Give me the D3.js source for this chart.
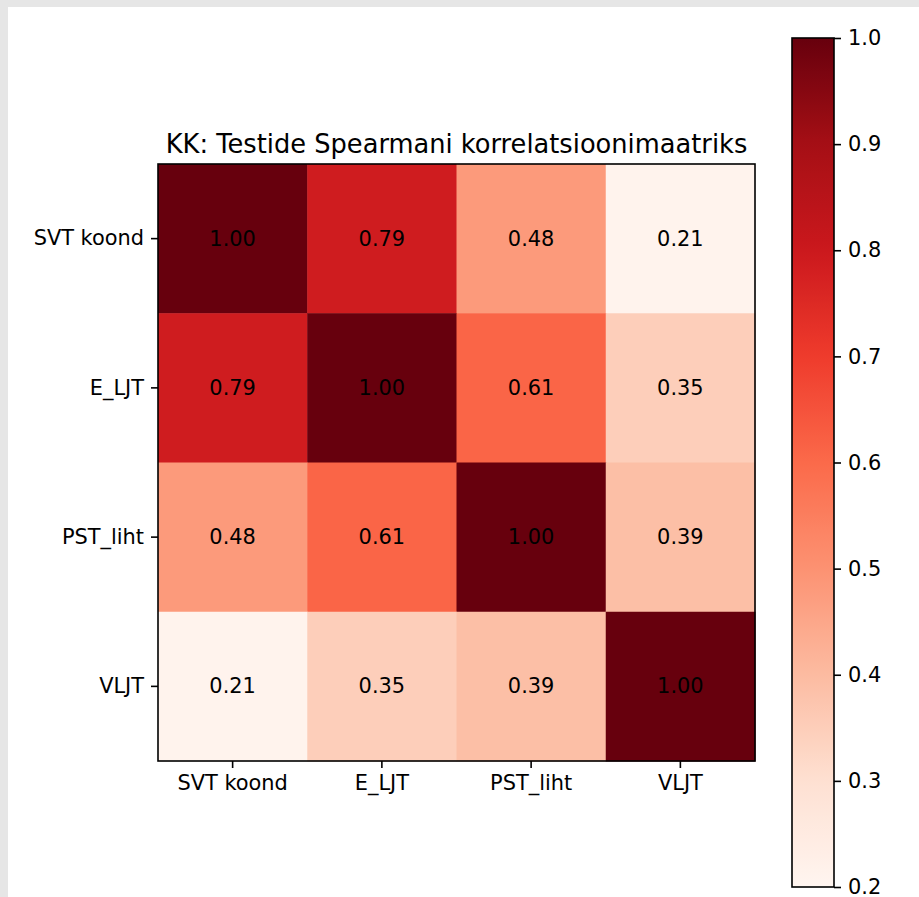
<!DOCTYPE html>
<html>
<head>
<meta charset="utf-8">
<script src="https://cdn.jsdelivr.net/npm/d3@7"></script>
<style>
  html, body { margin: 0; padding: 0; background: #e6e6e6; }
  svg { display: block; }
  text { font-family: "DejaVu Sans", sans-serif; fill: #000; }
</style>
</head>
<body>
<svg id="chart" width="919" height="897"></svg>
<script>
// Tests compared in the correlation matrix
const tests = ["SVT koond", "E_LJT", "PST_liht", "VLJT"];

// Spearman correlation values, row by row
const row0 = [1.00, 0.79, 0.48, 0.21];
const row1 = [0.79, 1.00, 0.61, 0.35];
const row2 = [0.48, 0.61, 1.00, 0.39];
const row3 = [0.21, 0.35, 0.39, 1.00];
const rows = [row0, row1, row2, row3];

// Colour bar range and ticks
const colorDomain = [0.2, 1.0];
const colorTicks = [0.2, 0.3, 0.4, 0.5, 0.6, 0.7, 0.8, 0.9, 1.0];

const title = "KK: Testide Spearmani korrelatsioonimaatriks";

// ColorBrewer "Reds", linearly segmented
const reds = ["#fff5f0","#fee0d2","#fcbba1","#fc9272","#fb6a4a","#ef3b2c","#cb181d","#a50f15","#67000d"];
const stops = reds.map((_, i) => colorDomain[0] + (colorDomain[1] - colorDomain[0]) * i / (reds.length - 1));
const color = d3.scaleLinear().domain(stops).range(reds).interpolate(d3.interpolateRgb).clamp(true);

const svg = d3.select("#chart");

// white canvas
svg.append("rect").attr("x", 8).attr("y", 7).attr("width", 911).attr("height", 890).attr("fill", "#fff");

const hm = { left: 158, top: 164, size: 597 };
const fs = 20.9;

const x = d3.scaleBand().domain(tests).range([hm.left, hm.left + hm.size]);
const y = d3.scaleBand().domain(tests).range([hm.top, hm.top + hm.size]);

const cells = [];
rows.forEach((r, i) => r.forEach((v, j) => cells.push({ row: tests[i], col: tests[j], v })));

const g = svg.append("g");
g.selectAll("rect.cell").data(cells).join("rect")
  .attr("class", "cell")
  .attr("x", d => x(d.col))
  .attr("y", d => y(d.row))
  .attr("width", x.bandwidth() + 0.5)
  .attr("height", y.bandwidth() + 0.5)
  .attr("fill", d => color(d.v));

g.selectAll("text.val").data(cells).join("text")
  .attr("class", "val")
  .attr("x", d => x(d.col) + x.bandwidth() / 2)
  .attr("y", d => y(d.row) + y.bandwidth() / 2)
  .attr("text-anchor", "middle")
  .attr("dominant-baseline", "central")
  .style("font-size", fs + "px")
  .text(d => d.v.toFixed(2));

// frame
svg.append("rect")
  .attr("x", hm.left).attr("y", hm.top)
  .attr("width", hm.size).attr("height", hm.size)
  .attr("fill", "none").attr("stroke", "#000").attr("stroke-width", 1.6);

function styleAxis(sel) {
  sel.select(".domain").remove();
  sel.selectAll(".tick line").attr("stroke", "#000").attr("stroke-width", 1.6);
  sel.selectAll(".tick text").style("font-size", fs + "px").attr("fill", "#000");
}

svg.append("g")
  .attr("transform", `translate(0,${hm.top + hm.size})`)
  .call(d3.axisBottom(x).tickSize(7).tickPadding(7))
  .call(styleAxis);

svg.append("g")
  .attr("transform", `translate(${hm.left},0)`)
  .call(d3.axisLeft(y).tickSize(7).tickPadding(7))
  .call(styleAxis);

svg.append("text")
  .attr("x", hm.left + hm.size / 2)
  .attr("y", hm.top - 11)
  .attr("text-anchor", "middle")
  .style("font-size", "25.7px")
  .text(title);

// colour bar
const cb = { left: 792, top: 38, width: 42, height: 849 };
const defs = svg.append("defs");
const grad = defs.append("linearGradient").attr("id", "cbgrad")
  .attr("x1", 0).attr("y1", 1).attr("x2", 0).attr("y2", 0);
d3.range(0, 1.0001, 0.02).forEach(t => {
  const v = colorDomain[0] + t * (colorDomain[1] - colorDomain[0]);
  grad.append("stop").attr("offset", t).attr("stop-color", color(v));
});
svg.append("rect")
  .attr("x", cb.left).attr("y", cb.top)
  .attr("width", cb.width).attr("height", cb.height)
  .attr("fill", "url(#cbgrad)")
  .attr("stroke", "#000").attr("stroke-width", 1.6);

const cy = d3.scaleLinear().domain(colorDomain).range([cb.top + cb.height, cb.top]);
svg.append("g")
  .attr("transform", `translate(${cb.left + cb.width},0)`)
  .call(d3.axisRight(cy).tickValues(colorTicks).tickFormat(d3.format(".1f")).tickSize(7).tickPadding(7))
  .call(styleAxis);
</script>
</body>
</html>
